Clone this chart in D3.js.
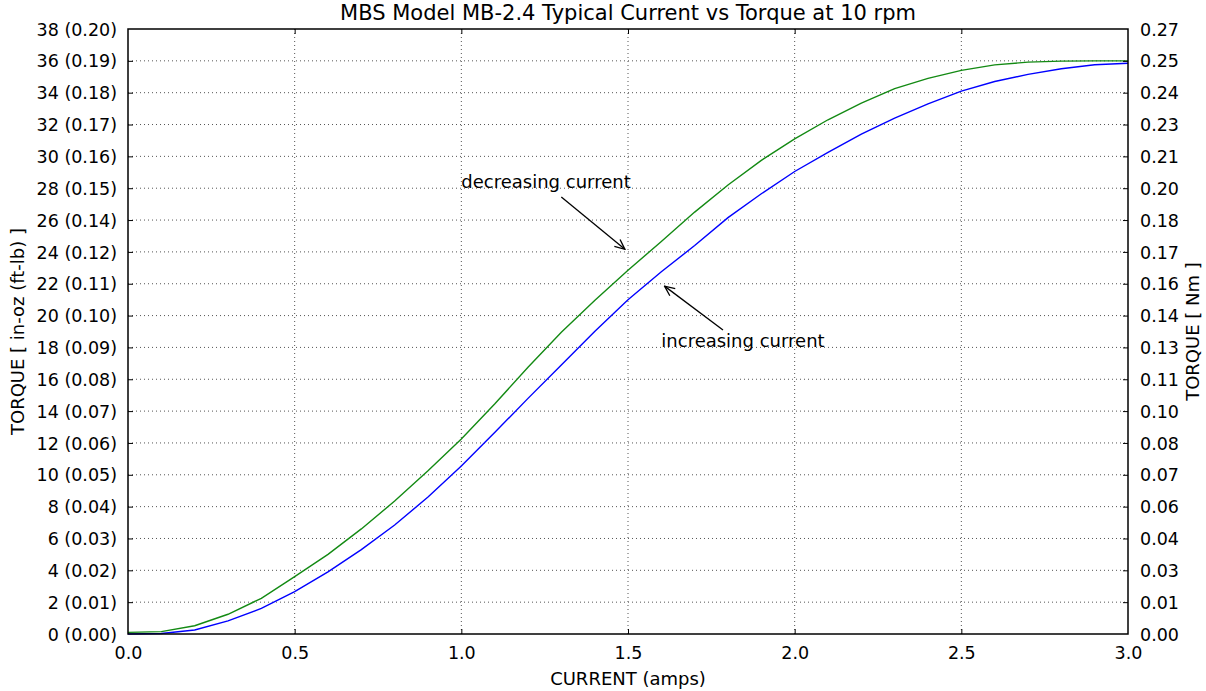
<!DOCTYPE html>
<html>
<head>
<meta charset="utf-8">
<script src="https://cdn.jsdelivr.net/npm/d3@7"></script>
<style>
  body { margin: 0; background: #fff; }
  svg { font-family: "DejaVu Sans", sans-serif; }
</style>
</head>
<body>
<div id="chart"></div>
<script>
// current in amps, torque in in-oz
const current = [0.0, 0.1, 0.2, 0.3, 0.4, 0.5, 0.6, 0.7, 0.8, 0.9, 1.0,
                 1.1, 1.2, 1.3, 1.4, 1.5, 1.6, 1.7, 1.8, 1.9, 2.0,
                 2.1, 2.2, 2.3, 2.4, 2.5, 2.6, 2.7, 2.8, 2.9, 3.0];
const increasing = [0.0, 0.03, 0.25, 0.82, 1.61, 2.66, 3.9, 5.3, 6.85, 8.6, 10.55,
                    12.65, 14.8, 16.9, 19.0, 21.0, 22.75, 24.4, 26.15, 27.65, 29.05,
                    30.25, 31.4, 32.4, 33.3, 34.1, 34.7, 35.15, 35.5, 35.75, 35.85];
const decreasing = [0.1, 0.15, 0.52, 1.24, 2.24, 3.6, 5.0, 6.6, 8.35, 10.25, 12.25,
                    14.45, 16.75, 18.95, 20.95, 22.85, 24.65, 26.5, 28.2, 29.75, 31.1,
                    32.3, 33.35, 34.25, 34.9, 35.4, 35.75, 35.92, 35.98, 36.0, 36.0];

const xTicks = [0.0, 0.5, 1.0, 1.5, 2.0, 2.5, 3.0];
const yTicks = [0, 2, 4, 6, 8, 10, 12, 14, 16, 18, 20, 22, 24, 26, 28, 30, 32, 34, 36, 38];
const leftLabels = ["0 (0.00)", "2 (0.01)", "4 (0.02)", "6 (0.03)", "8 (0.04)", "10 (0.05)",
                    "12 (0.06)", "14 (0.07)", "16 (0.08)", "18 (0.09)", "20 (0.10)", "22 (0.11)",
                    "24 (0.12)", "26 (0.14)", "28 (0.15)", "30 (0.16)", "32 (0.17)", "34 (0.18)",
                    "36 (0.19)", "38 (0.20)"];
const rightLabels = ["0.00", "0.01", "0.03", "0.04", "0.06", "0.07", "0.08", "0.10", "0.11", "0.13",
                     "0.14", "0.16", "0.17", "0.18", "0.20", "0.21", "0.23", "0.24", "0.25", "0.27"];

// annotations: label, text position, arrow target, arrow tail (data units)
const notes = [
    {text: "decreasing current", tx: 1.0, ty: 28, ax: 1.5, ay: 24, tail: [1.3, 27.45]},
    {text: "increasing current", tx: 1.6, ty: 18, ax: 1.6, ay: 22, tail: [1.785, 19.1]}
];

function chart() {
    const width = 1206;
    const height = 691;
    const margin = {top: 29, right: 78, bottom: 57, left: 128};

    const x = d3.scaleLinear().domain([0, 3]).range([margin.left, width - margin.right]);
    const y = d3.scaleLinear().domain([0, 38]).range([height - margin.bottom, margin.top]);

    const svg = d3.create("svg")
        .attr("width", width)
        .attr("height", height)
        .attr("viewBox", [0, 0, width, height]);

    // grid
    const grid = svg.append("g")
        .attr("stroke", "#555")
        .attr("stroke-width", 1)
        .attr("stroke-dasharray", "1,3");
    grid.selectAll(".gx")
        .data(xTicks.slice(1, -1))
        .join("line")
        .attr("x1", d => x(d)).attr("x2", d => x(d))
        .attr("y1", y(0)).attr("y2", y(38));
    grid.selectAll(".gy")
        .data(yTicks.slice(1, -1))
        .join("line")
        .attr("y1", d => y(d)).attr("y2", d => y(d))
        .attr("x1", x(0)).attr("x2", x(3));

    // lines
    const line = d3.line()
        .x((d, i) => x(current[i]))
        .y(d => y(d));

    svg.append("path")
        .datum(increasing)
        .attr("fill", "none")
        .attr("stroke", "#0000ff")
        .attr("stroke-width", 1.4)
        .attr("d", line);

    svg.append("path")
        .datum(decreasing)
        .attr("fill", "none")
        .attr("stroke", "#138a13")
        .attr("stroke-width", 1.4)
        .attr("d", line);

    // axes, ticks inward
    const bottom = svg.append("g")
        .attr("transform", `translate(0,${y(0)})`)
        .call(d3.axisBottom(x).tickValues(xTicks).tickFormat(d3.format(".1f"))
            .tickSizeInner(-5).tickSizeOuter(0).tickPadding(13));
    const top = svg.append("g")
        .attr("transform", `translate(0,${y(38)})`)
        .call(d3.axisTop(x).tickValues(xTicks).tickFormat("")
            .tickSizeInner(-5).tickSizeOuter(0));
    const left = svg.append("g")
        .attr("transform", `translate(${x(0)},0)`)
        .call(d3.axisLeft(y).tickValues(yTicks).tickFormat((d, i) => leftLabels[i])
            .tickSizeInner(-5).tickSizeOuter(0).tickPadding(11));
    const right = svg.append("g")
        .attr("transform", `translate(${x(3)},0)`)
        .call(d3.axisRight(y).tickValues(yTicks).tickFormat((d, i) => rightLabels[i])
            .tickSizeInner(-5).tickSizeOuter(0).tickPadding(12));

    [bottom, top, left, right].forEach(g => {
        g.select(".domain").remove();
        g.selectAll(".tick line").attr("stroke", "#000").attr("stroke-width", 1);
        g.selectAll("text")
            .attr("font-family", "DejaVu Sans, sans-serif")
            .attr("font-size", 17.5)
            .attr("fill", "#000");
    });
    // drop ticks sitting on frame corners
    left.selectAll(".tick line").filter(d => d === 0 || d === 38).remove();
    right.selectAll(".tick line").filter(d => d === 0 || d === 38).remove();
    bottom.selectAll(".tick line").filter(d => d === 0 || d === 3).remove();
    top.selectAll(".tick line").filter(d => d === 0 || d === 3).remove();
    left.selectAll(".tick text").attr("dy", "0.35em");
    right.selectAll(".tick text").attr("dy", "0.35em");

    // frame
    svg.append("rect")
        .attr("x", x(0)).attr("y", y(38))
        .attr("width", x(3) - x(0)).attr("height", y(0) - y(38))
        .attr("fill", "none")
        .attr("stroke", "#000")
        .attr("stroke-width", 1.5);

    // arrow marker
    svg.append("defs").append("marker")
        .attr("id", "head")
        .attr("viewBox", "0 0 12 12")
        .attr("refX", 11).attr("refY", 6)
        .attr("markerWidth", 12).attr("markerHeight", 12)
        .attr("markerUnits", "userSpaceOnUse")
        .attr("orient", "auto")
        .append("path")
        .attr("d", "M1,1.5 L11,6 L1,10.5")
        .attr("fill", "none")
        .attr("stroke", "#000")
        .attr("stroke-width", 1.3);

    const ann = svg.append("g");
    notes.forEach(n => {
        ann.append("text")
            .attr("x", x(n.tx)).attr("y", y(n.ty))
            .attr("font-size", 18)
            .attr("fill", "#000")
            .text(n.text);
        const tx = x(n.tail[0]), ty = y(n.tail[1]);
        const hx = x(n.ax), hy = y(n.ay);
        const dx = hx - tx, dy = hy - ty, len = Math.hypot(dx, dy);
        const shrink = 4;
        ann.append("line")
            .attr("x1", tx).attr("y1", ty)
            .attr("x2", hx - dx / len * shrink).attr("y2", hy - dy / len * shrink)
            .attr("stroke", "#000")
            .attr("stroke-width", 1.3)
            .attr("marker-end", "url(#head)");
    });

    // title and labels
    svg.append("text")
        .attr("x", (x(0) + x(3)) / 2).attr("y", 20)
        .attr("text-anchor", "middle")
        .attr("font-size", 21)
        .text("MBS Model MB-2.4 Typical Current vs Torque at 10 rpm");

    svg.append("text")
        .attr("x", (x(0) + x(3)) / 2).attr("y", 685)
        .attr("text-anchor", "middle")
        .attr("font-size", 18)
        .text("CURRENT (amps)");

    svg.append("text")
        .attr("transform", `translate(24,${(y(0) + y(38)) / 2}) rotate(-90)`)
        .attr("text-anchor", "middle")
        .attr("font-size", 18)
        .text("TORQUE [ in-oz (ft-lb) ]");

    svg.append("text")
        .attr("transform", `translate(1199,${(y(0) + y(38)) / 2}) rotate(-90)`)
        .attr("text-anchor", "middle")
        .attr("font-size", 18)
        .text("TORQUE [ Nm ]");

    return svg.node();
}

document.getElementById("chart").appendChild(chart());
</script>
</body>
</html>
